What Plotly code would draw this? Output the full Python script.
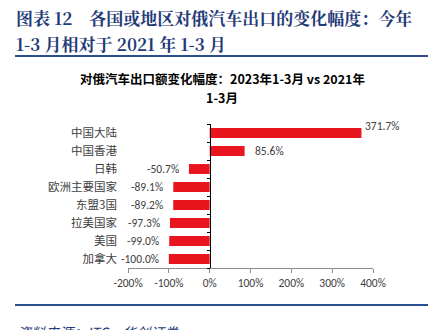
import plotly.graph_objects as go

# Change in auto exports to Russia, Jan-Mar 2023 vs Jan-Mar 2021 (%)
regions = ["中国大陆", "中国香港", "日韩", "欧洲主要国家", "东盟3国", "拉美国家", "美国", "加拿大"]
change_pct = [371.7, 85.6, -50.7, -89.1, -89.2, -97.3, -99.0, -100.0]
x_ticks = [-200, -100, 0, 100, 200, 300, 400]

W, H = 434, 330
ML, MR, MT, MB = 128, 61, 124, 62

RED = "#E8141E"
NAVY = "#1F3A78"
TXT = "#404040"
CJK = "Microsoft YaHei, Noto Sans CJK SC, sans-serif"
NUM = "Calibri, Carlito, Lato, sans-serif"


def px_x(p):
    return (p - ML) / (W - ML - MR)


def px_y(p):
    return (H - MB - p) / (H - MT - MB)


fig = go.Figure()
fig.add_trace(go.Bar(
    x=change_pct, y=regions, orientation="h",
    marker=dict(color=RED, line=dict(width=0)),
    width=0.55, hoverinfo="skip", showlegend=False,
))
# invisible companion trace that carries the axis drawn through x = 0
fig.add_trace(go.Scatter(
    x=[0] * len(regions), y=regions, yaxis="y2", mode="markers",
    marker=dict(opacity=0), hoverinfo="skip", showlegend=False,
))

# value labels: right of positive bars, left of negative bars
for v, r in zip(change_pct, regions):
    big = v > 300
    fig.add_annotation(
        x=v, y=r, text=f"{v:.1f}%", showarrow=False,
        xanchor="left" if v >= 0 else "right",
        xshift=(2 if big else 8) if v >= 0 else -8,
        yshift=7 if big else 0,
        font=dict(family=NUM, size=11.5, color=TXT),
    )

x0, x1 = x_ticks[0], x_ticks[-1]
zero_pos = (0 - x0) / (x1 - x0)

fig.update_layout(
    width=W, height=H,
    margin=dict(l=ML, r=MR, t=MT, b=MB),
    paper_bgcolor="white", plot_bgcolor="white",
    xaxis=dict(
        range=[x0, x1], tickvals=x_ticks, ticktext=[f"{t}%" for t in x_ticks],
        showgrid=False, zeroline=False, showline=True, linecolor="#8C8C8C", linewidth=1,
        ticks="outside", ticklen=4, tickcolor="#8C8C8C",
        tickfont=dict(family=NUM, size=11.5, color=TXT),
        fixedrange=True,
    ),
    yaxis=dict(
        type="category", categoryorder="array", categoryarray=regions[::-1],
        range=[-0.5, len(regions) - 0.5],
        showgrid=False, zeroline=False, showline=False, ticks="",
        tickfont=dict(family=CJK, size=11.5, color=TXT), ticklabelstandoff=10,
        fixedrange=True,
    ),
    yaxis2=dict(
        type="category", categoryorder="array", categoryarray=regions[::-1],
        range=[-0.5, len(regions) - 0.5],
        overlaying="y", anchor="free", position=zero_pos, side="left",
        showgrid=False, zeroline=False, showline=True, linecolor="black", linewidth=1,
        ticks="outside", tickson="boundaries", ticklen=3, tickcolor="black",
        showticklabels=False, fixedrange=True,
    ),
)

# report header, two lines
header_font = dict(family="Noto Serif CJK SC, Noto Sans CJK SC, serif", size=17, color=NAVY)
for txt, yc in (("<b>图表 12　各国或地区对俄汽车出口的变化幅度：今年</b>", 17),
                ("<b>1-3 月相对于 2021 年 1-3 月</b>", 43)):
    fig.add_annotation(
        xref="paper", yref="paper", x=px_x(14), y=px_y(yc),
        xanchor="left", yanchor="middle", showarrow=False,
        text=txt, font=header_font,
    )

# chart title, two lines
for txt, yc in (("<b>对俄汽车出口额变化幅度：2023年1-3月 vs 2021年</b>", 78),
                ("<b>1-3月</b>", 97)):
    fig.add_annotation(
        xref="paper", yref="paper", x=px_x(222), y=px_y(yc),
        xanchor="center", yanchor="middle", showarrow=False,
        text=txt, font=dict(family=CJK, size=12.5, color="black"),
    )

# source note
fig.add_annotation(
    xref="paper", yref="paper", x=px_x(15), y=px_y(320),
    xanchor="left", yanchor="top", align="left", showarrow=False,
    text="<i>资料来源：ITC，华创证券</i>",
    font=dict(family="Noto Sans CJK SC, sans-serif", size=14, color=NAVY),
)

# header / footer rules
for yy in (56, 305):
    fig.add_shape(
        type="line", xref="paper", yref="paper",
        x0=px_x(15), x1=px_x(428), y0=px_y(yy), y1=px_y(yy),
        line=dict(color="#2B4F8E", width=2),
    )

fig.write_html("out.html")
